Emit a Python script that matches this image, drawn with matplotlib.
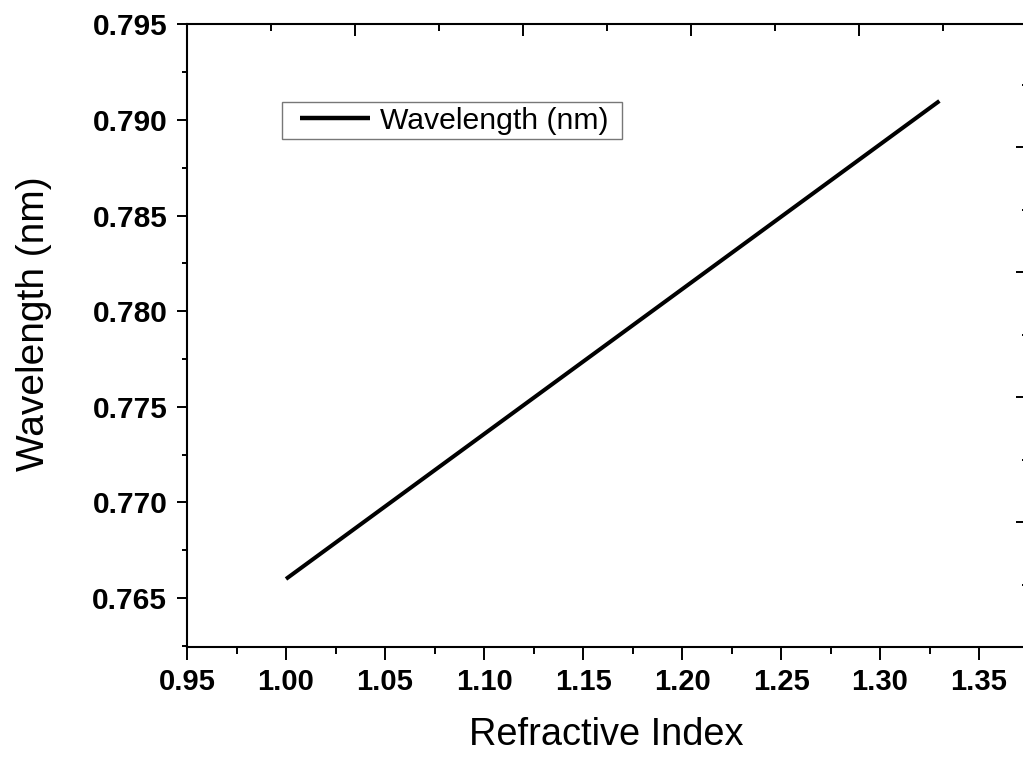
import matplotlib
matplotlib.use("Agg")
import matplotlib.pyplot as plt
from matplotlib.ticker import MultipleLocator, NullFormatter
from matplotlib.lines import Line2D
from matplotlib.legend_handler import HandlerLine2D

plt.rcParams['font.family'] = ['Liberation Sans', 'DejaVu Sans']

# Refractive index vs. resonance wavelength
refractive_index = [1.00, 1.33]
wavelength_nm = [0.766, 0.791]
series_label = "Wavelength (nm) "
x_label = "Refractive Index"
y_label = "Wavelength (nm)"

W, H = 1023, 757
fig = plt.figure(figsize=(W / 100, H / 100), dpi=100)

left, right, bottom, top = 187 / W, 1026 / W, 1 - 647 / H, 1 - 24 / H
rect = [left, bottom, right - left, top - bottom]
ax = fig.add_axes(rect)

ax.plot(refractive_index, wavelength_nm, color='black', lw=2.9,
        solid_capstyle='butt', label=series_label)

ax.set_xlim(0.95, 0.95 + (1026 - 187) / 1980)
ax.set_ylim(0.765 - 49 / 19150, 0.795 + 0.5 / 19150)

ax.xaxis.set_major_locator(MultipleLocator(0.05))
ax.xaxis.set_minor_locator(MultipleLocator(0.025))
ax.yaxis.set_major_locator(MultipleLocator(0.005))
ax.yaxis.set_minor_locator(MultipleLocator(0.0025))
ax.xaxis.set_major_formatter(plt.FuncFormatter(lambda v, p: f"{v:.2f}"))
ax.yaxis.set_major_formatter(plt.FuncFormatter(lambda v, p: f"{v:.3f}"))

for s in ax.spines.values():
    s.set_linewidth(1.5)

ax.tick_params(axis='x', which='major', direction='out', length=9.4, width=1.4,
               pad=6, labelsize=21, top=False)
ax.tick_params(axis='x', which='minor', direction='out', length=5, width=1.4, top=False)
ax.tick_params(axis='y', which='major', direction='out', length=7.2, width=1.4,
               pad=7, labelsize=21.5, right=False)
ax.tick_params(axis='y', which='minor', direction='out', length=3.6, width=1.4, right=False)
for lab in ax.get_xticklabels() + ax.get_yticklabels():
    lab.set_fontweight('bold')

ax.set_xlabel(x_label, fontsize=27.4, labelpad=15)
ax.set_ylabel(y_label, fontsize=28)
ax.yaxis.set_label_coords((52 - 187) / 839, (647 - 324) / 623)

# Inward tick marks along the top and right edges
ov = fig.add_axes(rect, frameon=False)
ov.set_xlim(0, 5 * (1026 - 187) / (1027 - 187))
ov.set_ylim(0, 623 / 125)
ov.xaxis.set_major_locator(MultipleLocator(1))
ov.xaxis.set_minor_locator(MultipleLocator(0.5))
ov.yaxis.set_major_locator(MultipleLocator(1))
ov.yaxis.set_minor_locator(MultipleLocator(0.5))
ov.xaxis.set_major_formatter(NullFormatter())
ov.yaxis.set_major_formatter(NullFormatter())
ov.tick_params(axis='both', which='both', bottom=False, left=False,
               labelbottom=False, labelleft=False, direction='in', width=1.4)
ov.tick_params(axis='x', which='major', top=True, length=8.6)
ov.tick_params(axis='x', which='minor', top=True, length=5)
ov.tick_params(axis='y', which='major', right=True, length=7.2)
ov.tick_params(axis='y', which='minor', right=True, length=3)
ov.patch.set_visible(False)

leg = ax.legend(loc='upper left', bbox_to_anchor=(282 / W, 1 - 102 / H),
                bbox_transform=fig.transFigure, borderaxespad=0,
                fontsize=21.7, frameon=True, fancybox=False, borderpad=0.15,
                handlelength=2.78, handletextpad=0.33,
                handler_map={Line2D: HandlerLine2D(xpad=0.45)})
frame = leg.get_frame()
frame.set_edgecolor('#555555')
frame.set_linewidth(1.0)
leg.get_lines()[0].set_linewidth(3.2)

fig.savefig("out.png", dpi=100)
